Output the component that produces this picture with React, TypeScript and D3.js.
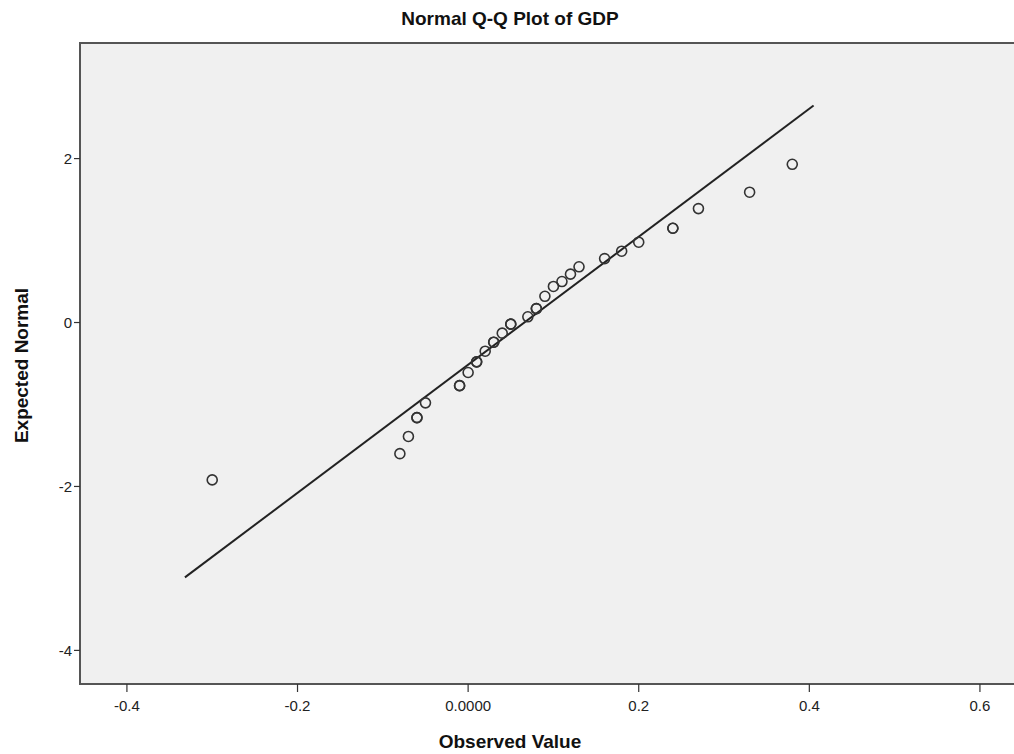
import React from 'react';
import * as d3 from 'd3';

const observed = [-0.30, -0.08, -0.07, -0.06, -0.05, -0.01, 0.00, 0.01, 0.02, 0.03, 0.04, 0.05, 0.07,
  0.08, 0.09, 0.10, 0.11, 0.12, 0.13, 0.16, 0.18, 0.20, 0.24, 0.27, 0.33, 0.38];
const expected = [-1.92, -1.60, -1.39, -1.16, -0.98, -0.77, -0.61, -0.48, -0.35, -0.24, -0.13, -0.02, 0.07,
  0.17, 0.32, 0.44, 0.50, 0.59, 0.68, 0.78, 0.87, 0.98, 1.15, 1.39, 1.59, 1.93];
// how many cases fall on each point (tied values)
const counts = [1, 1, 1, 2, 1, 2, 1, 2, 1, 2, 1, 2, 1, 2, 1, 1, 1, 1, 1, 1, 1, 1, 2, 1, 1, 1];

const xTicks = [-0.4, -0.2, 0, 0.2, 0.4, 0.6];
const yTicks = [-4, -2, 0, 2];

// reference line: z = (x - mean) / sd
const lineMean = 0.066;
const lineSd = 0.128;
const lineRange = [-0.332, 0.405];

const width = 1014;
const height = 754;
// plot frame runs past the right edge of the picture
const margins = { left: 80, top: 43, right: -12, bottom: 70 };

const fmtX = (d: number) => (d === 0 ? '0.0000' : d3.format('.1f')(d).replace('\u2212', '-'));

const App = () => {
  const xScale = d3.scaleLinear()
    .domain([-0.455, 0.654])
    .range([margins.left, width - margins.right]);
  const yScale = d3.scaleLinear()
    .domain([-4.41, 3.41])
    .range([height - margins.bottom, margins.top]);

  const plotBottom = height - margins.bottom;
  const refLine = d3.line<number>()
    .x(d => xScale(d))
    .y(d => yScale((d - lineMean) / lineSd));

  const font = '"Liberation Sans", Arial, sans-serif';

  return (
    <svg width={width} height={height} style={{ position: 'absolute', left: 0, top: 0 }} fontFamily={font}>
      <rect x={0} y={0} width={width} height={height} fill="#fff" />
      <rect x={margins.left} y={margins.top} width={width - margins.right - margins.left}
        height={plotBottom - margins.top} fill="#f0f0f0" stroke="#555" strokeWidth={2} />

      <text x={510} y={25} textAnchor="middle" fontSize={19} fontWeight="bold" fill="#111">Normal Q-Q Plot of GDP</text>

      {/* y axis */}
      <g>
        {yTicks.map(t => (
          <g key={t} transform={`translate(${margins.left},${yScale(t)})`}>
            <line x1={-6} x2={0} stroke="#333" strokeWidth={1.2} />
            <text x={-8} dy="0.35em" textAnchor="end" fontSize={15} fill="#222">{t}</text>
          </g>
        ))}
      </g>
      <text transform={`translate(28,${(margins.top + plotBottom) / 2 + 2})rotate(-90)`} textAnchor="middle"
        fontSize={19} fontWeight="bold" fill="#111">Expected Normal</text>

      {/* x axis */}
      <g>
        {xTicks.map(t => (
          <g key={t} transform={`translate(${xScale(t)},${plotBottom})`}>
            <line y1={0} y2={8} stroke="#333" strokeWidth={1.2} />
            <text y={27} textAnchor="middle" fontSize={15} fill="#222">{fmtX(t)}</text>
          </g>
        ))}
      </g>
      <text x={510} y={748} textAnchor="middle" fontSize={19} fontWeight="bold" fill="#111">Observed Value</text>

      <path d={refLine(lineRange) || ''} fill="none" stroke="#222" strokeWidth={2} />

      <g>
        {observed.map((v, i) => d3.range(counts[i]).map(k => (
          <circle key={`${i}-${k}`} cx={xScale(v)} cy={yScale(expected[i])} r={5}
            fill="none" stroke="#333" strokeWidth={1.6} />
        )))}
      </g>
    </svg>
  );
};

export default App;
